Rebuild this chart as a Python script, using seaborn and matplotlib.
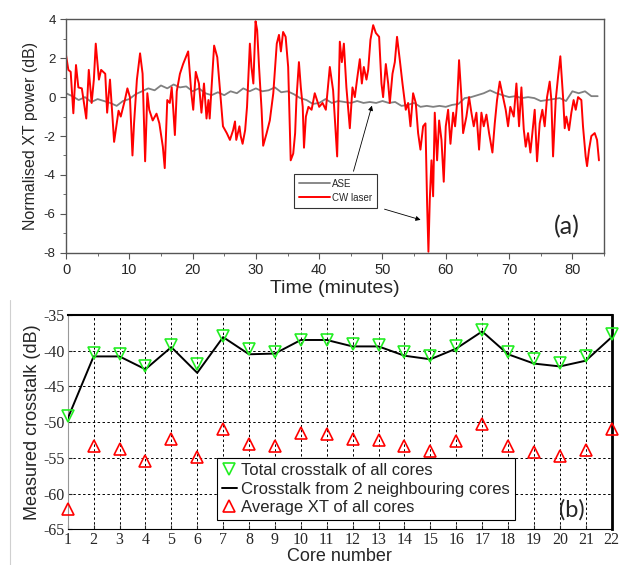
import matplotlib
matplotlib.use('Agg')
import matplotlib.pyplot as plt
import seaborn as sns
from matplotlib.lines import Line2D

# ---- panel (a): normalised XT power vs time ----
ase_t = list(range(85))
ase_v = [0.2, 0.05, -0.15, 0.0, -0.25, -0.1, -0.2, -0.3, -0.45, -0.2,
         -0.1, 0.15, 0.3, 0.45, 0.35, 0.6, 0.45, 0.65, 0.5, 0.55,
         0.3, 0.45, 0.2, 0.1, 0.25, 0.1, 0.3, 0.2, 0.45, 0.3,
         0.45, 0.3, 0.35, 0.5, 0.25, 0.3, 0.15, -0.05, -0.15, -0.35,
         -0.3, -0.1, -0.3, -0.2, -0.25, -0.3, -0.2, -0.3, -0.25, -0.3,
         -0.2, -0.3, -0.25, -0.45, -0.4, -0.3, -0.5, -0.45, -0.5, -0.45,
         -0.5, -0.4, -0.35, -0.05, 0.0, 0.1, 0.2, 0.35, 0.2, 0.1,
         0.0, 0.05, -0.05, 0.0, -0.05, -0.2, -0.15, -0.1, -0.05, -0.2,
         0.3, 0.2, 0.3, 0.05, 0.05]

cw_t = [0, 0.37, 0.74, 1.16, 1.58, 1.95, 2.5, 3.2, 3.6, 4.05, 4.4, 4.7, 5.2, 5.55,
        6.2, 6.5, 6.95, 7.6, 8.3, 8.65, 9.3, 9.7, 10.1, 10.5, 10.75, 11.2, 11.7,
        12.1, 12.5, 12.85, 13.15, 13.7, 14.3, 14.75, 15.3, 15.6, 16.0, 16.4, 16.7,
        16.95, 17.2, 17.5, 18.0, 18.5, 19.3, 19.8, 20.1, 20.5, 21.0, 21.4, 21.8,
        22.2, 22.5, 22.7, 23.0, 23.4, 23.9, 24.3, 24.8, 25.4, 25.9, 26.4, 26.7,
        26.9, 27.4, 27.6, 27.9, 28.3, 28.6, 29.05, 29.3, 29.6, 29.95, 30.2, 30.5,
        30.9, 31.15, 31.7, 32.2, 32.75, 33.3, 33.65, 33.95, 34.3, 34.7, 35.1, 35.5,
        35.9, 36.2, 36.4, 36.8, 37.1, 37.4, 37.6, 37.9, 38.3, 38.8, 39.3, 40.0,
        40.53, 41.05, 41.68, 42.2, 42.84, 43.26, 43.58, 43.9, 44.3, 44.84, 45.26,
        45.63, 46.0, 46.42, 46.74, 47.05, 47.47, 47.74, 48.1, 48.53, 48.95, 49.47,
        49.84, 50.1, 50.53, 50.9, 51.16, 51.58, 51.95, 52.3, 52.74, 53.16, 53.68,
        54.05, 54.42, 54.84, 55.26, 55.63, 56.0, 56.42, 56.79, 57.05, 57.26, 57.47,
        57.74, 58.0, 58.26, 58.63, 58.95, 59.32, 59.68, 60.0, 60.37, 60.74, 61.16,
        61.47, 61.79, 62.1, 62.47, 62.74, 63.26, 63.68, 64.05, 64.42, 64.84, 65.26,
        65.63, 66.0, 66.42, 66.84, 67.37, 67.74, 68.1, 68.53, 69.05, 69.47, 69.84,
        70.2, 70.74, 71.16, 71.58, 71.95, 72.32, 72.63, 73.0, 73.37, 73.79, 74.05,
        74.42, 74.84, 75.26, 75.63, 76.0, 76.42, 76.68, 76.95, 77.37, 77.74, 78.1,
        78.53, 78.79, 79.05, 79.47, 79.84, 80.2, 80.53, 80.9, 81.42, 81.68, 82.1,
        82.32, 82.63, 83.0, 83.53, 83.9, 84.2]
cw_v = [2.17, 1.4, 1.3, -0.83, 1.65, 0.5, 0.45, -1.1, 1.4, -0.3, 0.9, 2.75, 0.9, 1.4,
        1.2, -0.8, 0.9, -2.3, -0.7, -1.0, -0.15, 0.45, 0, -3.0, -1.35, 0.9, 2.25,
        1.2, -3.3, 0.2, -0.65, -1.2, -0.85, -1.35, -2.55, -3.65, -0.15, -0.3, 0.5,
        -0.65, -1.95, 0.3, 1.2, 1.7, 2.35, 0.2, -0.65, 1.3, 0.7, -0.8, 0.7,
        -1.1, -0.15, -1.1, 0.5, 2.65, 2.05, 0.5, -1.5, -1.85, -2.2, -1.7, -1.25,
        -2.2, -1.5, -2.0, -2.4, -1.7, -0.5, 2.75, 1.55, 0.7, 3.9, 3.45, 1.55,
        -0.65, -2.5, -1.85, -1.2, 0.2, 2.75, 3.2, 2.35, 3.35, 3.1, 1.55, -3.25,
        -2.9, -1.85, -0.15, 1.8, 0.5, -0.5, -2.6, -1.0, -0.5, -0.65, 0.2, -0.5,
        -0.3, -0.65, 1.55, 0.35, -3.05, 2.85, 1.8, 2.75, 0.5, -1.6, 0.5,
        0, 0.95, 1.95, 0.7, 1.55, 0.9, 1.4, 2.95, 3.7, 3.3, 3.1,
        0.7, 0, 1.7, 0.7, -0.3, 1.2, 1.8, 3.1, 1.9, 0.7, -0.65,
        -0.3, -1.5, 0.2, -0.3, -1.85, -2.7, -1.5, -1.35, -5.45, -7.95, -5.3,
        -3.25, -5.1, -0.8, -3.25, -1.2, -2.2, -4.35, -1.5, -0.65, -2.4, -0.8,
        -1.5, -0.3, 1.9, 0, -1.85, -1.0, 0, -0.8, -1.5, -0.8, -2.7,
        -0.8, -1.5, -0.9, -1.85, -2.85, -1.35, -0.15, 0.8, 0, -0.65, -1.5,
        -0.5, -1.0, 0.7, -1.5, 0.5, -1.65, -2.55, -1.85, -2.85, -1.5, -0.65,
        -3.3, -1.35, -0.65, -1.5, 0, 0.8, -0.15, -3.05, -0.15, 1.05, 2.1,
        0, -1.6, -1.0, -1.7, -0.8, -0.15, -0.65, 0, -0.15, -1.5, -3.05,
        -3.55, -2.7, -2.0, -1.85, -2.2, -3.25]

# ---- panel (b): crosstalk per core ----
cores = list(range(1, 23))
total_xt = [-49.1, -40.3, -40.5, -42.2, -39.2, -41.8, -37.9, -39.8, -40.2, -38.5, -38.5,
            -39.1, -39.2, -40.2, -40.8, -39.4, -37.1, -40.2, -41.1, -41.7, -40.7, -37.7]
neighbour_xt = [-49.5, -40.8, -40.8, -42.6, -39.5, -43.1, -38.1, -40.5, -40.4, -38.5, -38.5,
                -39.4, -39.4, -40.7, -41.2, -39.7, -37.3, -40.5, -41.8, -42.2, -41.4, -38.1]
average_xt = [-62.2, -53.4, -53.7, -55.4, -52.4, -54.9, -51.0, -53.1, -53.3, -51.5, -51.7,
              -52.3, -52.5, -53.4, -54.0, -52.7, -50.3, -53.4, -54.2, -54.8, -53.9, -50.9]

sns.set_style('ticks')
plt.rcParams['font.family'] = ['Liberation Sans', 'DejaVu Sans']
plt.rcParams['axes.unicode_minus'] = False

fig = plt.figure(figsize=(6.28, 5.65), dpi=100)
ax1 = fig.add_axes([0.1051, 0.5527, 0.8567, 0.4131])
ax2 = fig.add_axes([0.1078, 0.0632, 0.8662, 0.3793])

# panel (a)
sns.lineplot(x=ase_t, y=ase_v, ax=ax1, color='#808080', lw=1.3, label='ASE')
sns.lineplot(x=cw_t, y=cw_v, ax=ax1, color='#ff0000', lw=1.4, label='CW laser')
ax1.set_xlim(0, 85)
ax1.set_ylim(-8, 4)
ax1.set_xticks(range(0, 81, 10))
ax1.set_xticks(range(5, 86, 10), minor=True)
ax1.set_yticks(range(-8, 5, 2))
ax1.set_yticks(range(-7, 4, 2), minor=True)
ax1.tick_params(axis='x', labelsize=10.5, length=4, color='#555555', direction='out')
ax1.tick_params(axis='y', labelsize=9.5, length=4, color='#555555', direction='out')
ax1.tick_params(which='minor', length=2.5, color='#555555')
for s in ax1.spines.values():
    s.set_color('#555555')
    s.set_linewidth(1.0)
ax1.set_xlabel('Time (minutes)', fontsize=14, labelpad=2)
ax1.set_ylabel('Normalised XT power (dB)', fontsize=11.5, labelpad=4)
leg1 = ax1.legend(loc='upper left', bbox_to_anchor=(0.4238, 0.3372), borderaxespad=0,
                  fontsize=7, frameon=True, fancybox=False, edgecolor='black',
                  handlelength=3.2, handletextpad=0.2, borderpad=0.5, labelspacing=0.4)
leg1.get_frame().set_linewidth(0.8)
leg1.set_zorder(5)
ax1.annotate('', xy=(48.45, -0.3), xytext=(45.3, -3.95),
             arrowprops=dict(arrowstyle='-|>', color='black', lw=0.6, mutation_scale=7))
ax1.annotate('', xy=(56.45, -6.35), xytext=(49.9, -5.72),
             arrowprops=dict(arrowstyle='-|>', color='black', lw=0.6, mutation_scale=7))
ax1.text(0.931, 0.111, '(a)', transform=ax1.transAxes, fontsize=18, family='Lato',
         ha='center', va='center')

# panel (b)
sns.lineplot(x=cores, y=total_xt, ax=ax2, marker='v', linestyle='', markersize=8,
             markerfacecolor='none', markeredgecolor='#22ee22', markeredgewidth=1.2,
             color='#22ee22', label='Total crosstalk of all cores', clip_on=False, zorder=4)
sns.lineplot(x=cores, y=neighbour_xt, ax=ax2, color='black', lw=1.4,
             label='Crosstalk from 2 neighbouring cores', zorder=3)
sns.lineplot(x=cores, y=average_xt, ax=ax2, marker='^', linestyle='', markersize=8,
             markerfacecolor='none', markeredgecolor='#ff0000', markeredgewidth=1.2,
             color='#ff0000', label='Average XT of all cores', clip_on=False, zorder=4)
ax2.set_xlim(1, 22)
ax2.set_ylim(-65, -35)
ax2.set_xticks(cores)
ax2.set_yticks(range(-65, -34, 5))
ax2.grid(True, color='black', linestyle=(0, (2.5, 2.5)), linewidth=0.7)
ax2.tick_params(axis='both', labelsize=11.5, length=3, direction='in', pad=2)
for lab in ax2.get_xticklabels() + ax2.get_yticklabels():
    lab.set_family('Liberation Serif')
ax2.spines['left'].set_color('#999999')
ax2.spines['bottom'].set_color('black')
ax2.spines['top'].set_color('black')
ax2.spines['top'].set_linewidth(1.5)
ax2.spines['right'].set_color('black')
ax2.spines['right'].set_linewidth(2.0)
ax2.set_xlabel('Core number', fontsize=13, labelpad=0)
ax2.set_ylabel('Measured crosstalk (dB)', fontsize=13, labelpad=2)
leg2 = ax2.legend(loc='lower left', bbox_to_anchor=(0.274, 0.0434), borderaxespad=0,
                  fontsize=12, frameon=True, fancybox=False, edgecolor='black',
                  framealpha=1, handlelength=0.9, handletextpad=0.25, borderpad=0.3,
                  labelspacing=0.2)
leg2.get_frame().set_linewidth(0.8)
leg2.set_zorder(6)
ax2.text(0.926, 0.09, '(b)', transform=ax2.transAxes, fontsize=17, family='Lato',
         ha='center', va='center', zorder=7)

# faint border of the lower picture
fig.add_artist(Line2D([10 / 628, 10 / 628], [0, 1 - 300 / 565], transform=fig.transFigure,
                      color='#d0d0d0', lw=0.8))

fig.savefig('out.png', dpi=100)
